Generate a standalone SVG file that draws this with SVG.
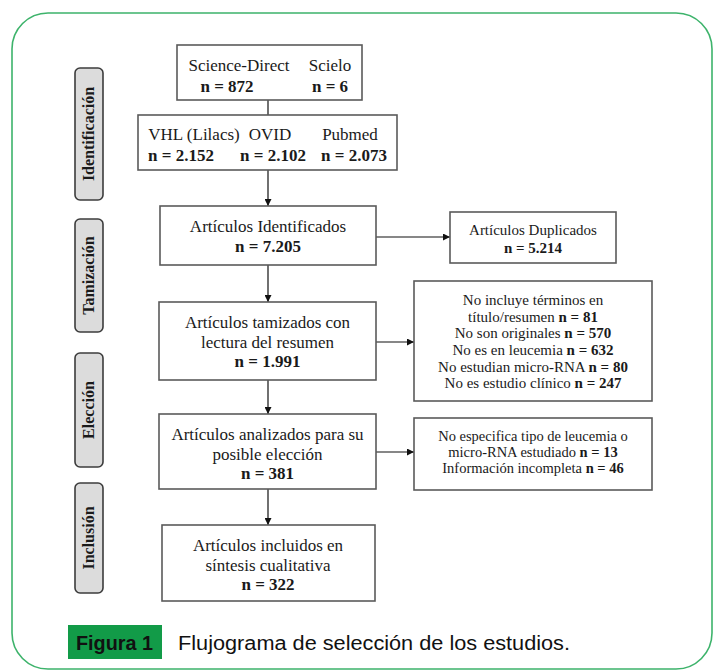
<svg xmlns="http://www.w3.org/2000/svg" width="717" height="670" viewBox="0 0 717 670">
<defs>
<marker id="arr" viewBox="0 0 10 10" refX="10" refY="5" markerWidth="7" markerHeight="7" orient="auto" markerUnits="userSpaceOnUse"><path d="M0,0 L10,5 L0,10 z" fill="#111"/></marker>
<style>
.box{fill:#fff;stroke:#5a5a5a;stroke-width:1.6}
.lab{fill:#dcdcdc;stroke:#3c3c3c;stroke-width:1.6}
.t{font-family:"Liberation Serif","Times New Roman",serif;fill:#1a1a1a;text-anchor:middle}
.b{font-weight:bold}
.s17{font-size:17px}
.s15{font-size:15px}
.s14{font-size:14.5px}
.vl{font-family:"Liberation Serif","Times New Roman",serif;font-weight:bold;font-size:16px;fill:#1a1a1a;text-anchor:middle}
.c{stroke:#111;stroke-width:1.2;fill:none}
</style>
</defs>
<rect x="12" y="13" width="700" height="656" rx="36" fill="#fff" stroke="#3db36b" stroke-width="1.6"/>

<g id="label-identificacion"><rect class="lab" x="75" y="68" width="28" height="132" rx="5"/><text class="vl" transform="translate(94,134) rotate(-90)">Identificación</text></g>
<g id="label-tamizacion"><rect class="lab" x="75" y="219" width="28" height="113" rx="5"/><text class="vl" transform="translate(94,275.5) rotate(-90)">Tamización</text></g>
<g id="label-eleccion"><rect class="lab" x="75" y="353" width="28" height="114" rx="5"/><text class="vl" transform="translate(94,410) rotate(-90)">Elección</text></g>
<g id="label-inclusion"><rect class="lab" x="75" y="483" width="28" height="110" rx="5"/><text class="vl" transform="translate(94,538) rotate(-90)">Inclusión</text></g>

<g id="connectors">
<line class="c" x1="268" y1="100" x2="268" y2="115"/>
<line class="c" x1="268" y1="170" x2="268" y2="206" marker-end="url(#arr)"/>
<line class="c" x1="376" y1="237" x2="450" y2="237" marker-end="url(#arr)"/>
<line class="c" x1="268" y1="265" x2="268" y2="302" marker-end="url(#arr)"/>
<line class="c" x1="376" y1="342" x2="414" y2="342" marker-end="url(#arr)"/>
<line class="c" x1="268" y1="380" x2="268" y2="414" marker-end="url(#arr)"/>
<line class="c" x1="376" y1="452" x2="414" y2="452" marker-end="url(#arr)"/>
<line class="c" x1="268" y1="489" x2="268" y2="525" marker-end="url(#arr)"/>
</g>

<g id="n-sources1">
<rect class="box" x="177" y="45" width="185" height="55"/>
<text class="t s17" x="239" y="71">Science-Direct</text>
<text class="t s17" x="330" y="71">Scielo</text>
<text class="t s17 b" x="227" y="92">n = 872</text>
<text class="t s17 b" x="330" y="92">n = 6</text>
</g>

<g id="n-sources2">
<rect class="box" x="138" y="115" width="259" height="55"/>
<text class="t s17" x="194" y="140">VHL (Lilacs)</text>
<text class="t s17" x="270" y="140">OVID</text>
<text class="t s17" x="350" y="140">Pubmed</text>
<text class="t s17 b" x="181" y="161">n = 2.152</text>
<text class="t s17 b" x="273" y="161">n = 2.102</text>
<text class="t s17 b" x="354" y="161">n = 2.073</text>
</g>

<g id="n-identificados">
<rect class="box" x="160" y="206" width="216" height="59"/>
<text class="t s17" x="268" y="232">Artículos Identificados</text>
<text class="t s17 b" x="268" y="252">n = 7.205</text>
</g>

<g id="n-duplicados">
<rect class="box" x="450" y="212" width="166" height="51"/>
<text class="t s15" x="533" y="235">Artículos Duplicados</text>
<text class="t s15 b" x="533" y="253">n = 5.214</text>
</g>

<g id="n-tamizados">
<rect class="box" x="159" y="302" width="217" height="78"/>
<text class="t s17" x="267.5" y="328">Artículos tamizados con</text>
<text class="t s17" x="267.5" y="347.5">lectura del resumen</text>
<text class="t s17 b" x="267.5" y="367">n = 1.991</text>
</g>

<g id="n-excl1">
<rect class="box" x="414" y="281" width="238" height="120"/>
<text class="t s15" x="533" y="305">No incluye términos en</text>
<text class="t s15" x="533" y="321.5">título/resumen <tspan class="b">n = 81</tspan></text>
<text class="t s15" x="533" y="338">No son originales <tspan class="b">n = 570</tspan></text>
<text class="t s15" x="533" y="355">No es en leucemia <tspan class="b">n = 632</tspan></text>
<text class="t s15" x="533" y="371.5">No estudian micro-RNA <tspan class="b">n = 80</tspan></text>
<text class="t s15" x="533" y="388">No es estudio clínico <tspan class="b">n = 247</tspan></text>
</g>

<g id="n-analizados">
<rect class="box" x="159" y="414" width="217" height="75"/>
<text class="t s17" x="267.5" y="440">Artículos analizados para su</text>
<text class="t s17" x="267.5" y="459.5">posible elección</text>
<text class="t s17 b" x="267.5" y="479">n = 381</text>
</g>

<g id="n-excl2">
<rect class="box" x="414" y="418" width="238" height="72"/>
<text class="t s14" x="533" y="441">No especifica tipo de leucemia o</text>
<text class="t s14" x="533" y="457">micro-RNA estudiado <tspan class="b">n = 13</tspan></text>
<text class="t s14" x="533" y="472.5">Información incompleta <tspan class="b">n = 46</tspan></text>
</g>

<g id="n-incluidos">
<rect class="box" x="162" y="525" width="213" height="76"/>
<text class="t s17" x="268" y="551">Artículos incluidos en</text>
<text class="t s17" x="268" y="571">síntesis cualitativa</text>
<text class="t s17 b" x="268" y="590">n = 322</text>
</g>

<g id="caption">
<rect x="68" y="625" width="94" height="34" fill="#129b48"/>
<text x="76" y="650" font-family="'Liberation Sans',Arial,sans-serif" font-size="20" font-weight="bold" fill="#111" textLength="77" lengthAdjust="spacingAndGlyphs">Figura 1</text>
<text x="178" y="650" font-family="'Liberation Sans',Arial,sans-serif" font-size="20" fill="#111" textLength="392" lengthAdjust="spacingAndGlyphs">Flujograma de selección de los estudios.</text>
</g>
</svg>
